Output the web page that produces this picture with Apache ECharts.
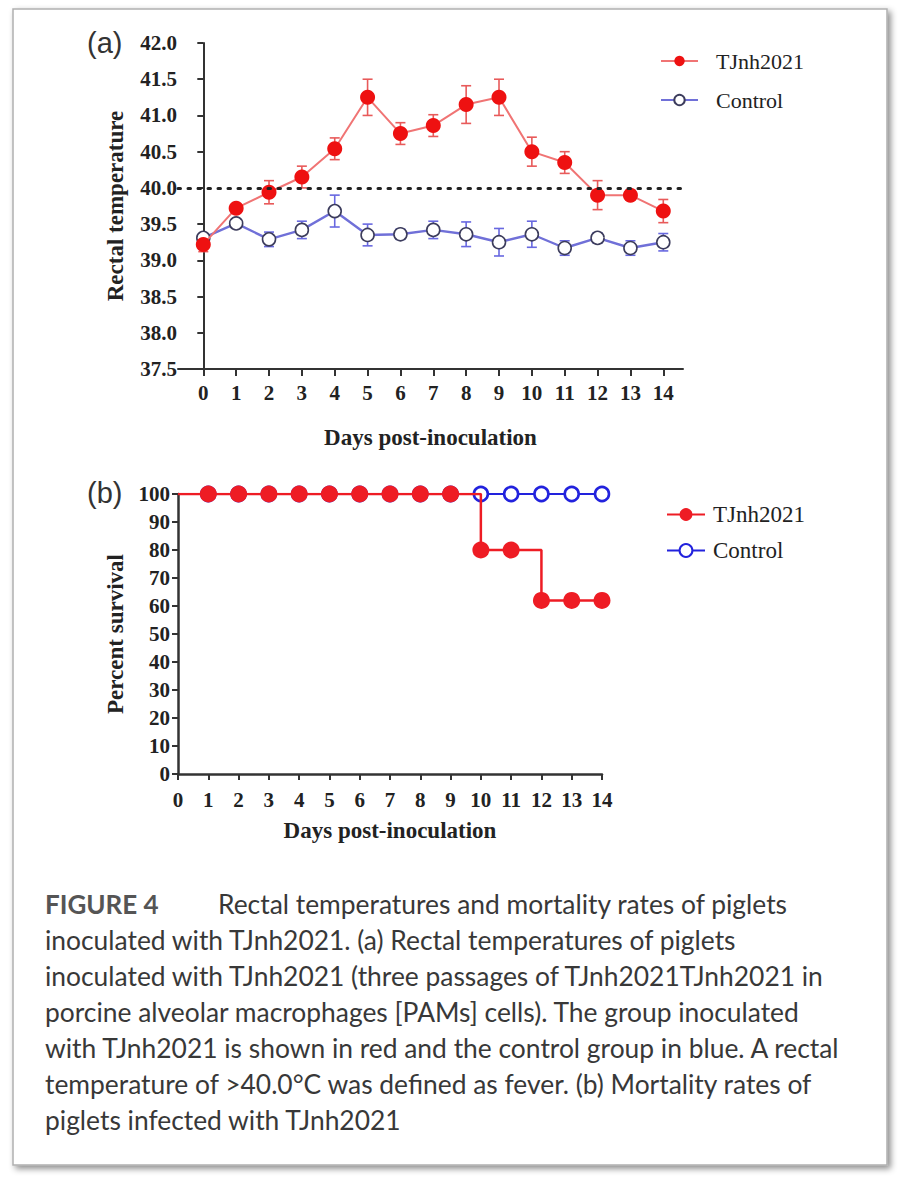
<!DOCTYPE html>
<html>
<head>
<meta charset="utf-8">
<script src="https://cdn.jsdelivr.net/npm/echarts@6/dist/echarts.min.js"></script>
<style>
html,body{margin:0;padding:0;background:#fff;}
#c{width:900px;height:1183px;}
</style>
</head>
<body>
<div id="c"></div>
<script>
// ---- data ----
const days = [0,1,2,3,4,5,6,7,8,9,10,11,12,13,14];
const tjTemp   = [39.22,39.72,39.94,40.15,40.54,41.25,40.75,40.86,41.15,41.25,40.50,40.35,39.90,39.90,39.68];
const tjErr    = [0.10,0.06,0.16,0.15,0.15,0.25,0.15,0.15,0.26,0.25,0.20,0.15,0.20,0.07,0.16];
const ctrlTemp = [39.31,39.51,39.29,39.42,39.68,39.35,39.36,39.42,39.36,39.25,39.36,39.17,39.31,39.17,39.25];
const ctrlErr  = [0.04,0.05,0.10,0.12,0.22,0.15,0.07,0.12,0.17,0.19,0.18,0.10,0.07,0.10,0.12];
const feverThreshold = 40.0;
const tjSurv   = [100,100,100,100,100,100,100,100,100,100,80,80,62,62,62];
const ctrlSurv = [100,100,100,100,100,100,100,100,100,100,100,100,100,100,100];
const captionHead = 'FIGURE 4';
const captionFirst = 'Rectal temperatures and mortality rates of piglets';
const captionLines = [
  'inoculated with TJnh2021. (a) Rectal temperatures of piglets',
  'inoculated with TJnh2021 (three passages of TJnh2021TJnh2021 in',
  'porcine alveolar macrophages [PAMs] cells). The group inoculated',
  'with TJnh2021 is shown in red and the control group in blue. A rectal',
  'temperature of >40.0°C was defined as fever. (b) Mortality rates of',
  'piglets infected with TJnh2021'
];

// ---- styling ----
const serif = 'Liberation Serif';
const axisCol = '#333';
const redA = '#ee1111', redLineA = '#f07474', redErrA = '#e85a5a';
const blueLineA = '#7070d8', blueErrA = '#6868e0', ctrlEdgeA = '#3c3c5c';
const redB = '#ee1c24', blueB = '#2222dd';

function errSeries(vals, errs, color, gi){
  return {
    type:'custom', xAxisIndex:gi, yAxisIndex:gi, z:1, silent:true,
    data: days.map((d,i)=>[d, vals[i], errs[i]]),
    renderItem(params, api){
      const x=api.value(0), y=api.value(1), e=api.value(2);
      const t=api.coord([x,y+e]), b=api.coord([x,y-e]);
      const w=5;
      const st={stroke:color, lineWidth:1.6};
      return {type:'group', children:[
        {type:'line', shape:{x1:t[0],y1:t[1],x2:b[0],y2:b[1]}, style:st},
        {type:'line', shape:{x1:t[0]-w,y1:t[1],x2:t[0]+w,y2:t[1]}, style:st},
        {type:'line', shape:{x1:b[0]-w,y1:b[1],x2:b[0]+w,y2:b[1]}, style:st}
      ]};
    }
  };
}

const boldLbl = {fontFamily:serif, fontWeight:'bold', fontSize:21, color:'#222'};
const nameStyle = {fontFamily:serif, fontWeight:'bold', fontSize:23, color:'#222'};

const chart = echarts.init(document.getElementById('c'), null, {renderer:'svg'});
const option = {
  backgroundColor:'#fff',
  animation:false,
  grid:[
    {left:178, top:43, width:505, height:326},
    {left:178, top:494, width:424, height:280}
  ],
  xAxis:[
    {gridIndex:0, type:'value', min:-0.77, max:14.6,
     axisLine:{lineStyle:{color:axisCol,width:2}},
     axisTick:{customValues:days, length:7, lineStyle:{color:axisCol,width:2}},
     axisLabel:{customValues:days, margin:13, ...boldLbl},
     splitLine:{show:false},
     name:'Days post-inoculation', nameLocation:'middle', nameGap:57, nameTextStyle:nameStyle},
    {gridIndex:1, type:'value', min:0, max:14, interval:1,
     axisLine:{lineStyle:{color:axisCol,width:2.5}},
     axisTick:{length:6, lineStyle:{color:axisCol,width:2}},
     axisLabel:{margin:15, ...boldLbl},
     splitLine:{show:false},
     name:'Days post-inoculation', nameLocation:'middle', nameGap:45, nameTextStyle:nameStyle}
  ],
  yAxis:[
    {gridIndex:0, type:'value', min:37.5, max:42, interval:0.5, offset:-7,
     axisLine:{show:true, lineStyle:{color:axisCol,width:2}},
     axisTick:{show:true, length:6, lineStyle:{color:axisCol,width:2}},
     axisLabel:{margin:8, formatter:v=>v.toFixed(1), ...boldLbl},
     splitLine:{show:false},
     name:'Rectal temperature', nameLocation:'middle', nameGap:58, nameTextStyle:nameStyle},
    {gridIndex:1, type:'value', min:0, max:100, interval:10,
     axisLine:{show:true, lineStyle:{color:axisCol,width:2.5}},
     axisTick:{show:true, length:6, lineStyle:{color:axisCol,width:2}},
     axisLabel:{margin:8, ...boldLbl},
     splitLine:{show:false},
     name:'Percent survival', nameLocation:'middle', nameGap:51, nameTextStyle:nameStyle}
  ],
  legend:[
    {data:['a-TJnh2021','a-Control'], orient:'vertical', left:655, top:45, itemGap:17,
     itemWidth:37, itemHeight:13, formatter:n=>n.slice(2),
     textStyle:{fontFamily:serif, fontSize:22, color:'#222', padding:[0,0,0,13]}, selectedMode:false},
    {data:['b-TJnh2021','b-Control'], orient:'vertical', left:661, top:498, itemGap:13,
     itemWidth:38, itemHeight:16, formatter:n=>n.slice(2),
     textStyle:{fontFamily:serif, fontSize:23, color:'#222', padding:[0,0,0,3]}, selectedMode:false}
  ],
  series:[
    errSeries(ctrlTemp, ctrlErr, blueErrA, 0),
    errSeries(tjTemp, tjErr, redErrA, 0),
    {name:'a-Control', type:'line', xAxisIndex:0, yAxisIndex:0, z:3,
     data:days.map((d,i)=>[d,ctrlTemp[i]]),
     symbol:'circle', symbolSize:13,
     lineStyle:{color:blueLineA, width:2.4},
     itemStyle:{color:'#fff', borderColor:ctrlEdgeA, borderWidth:1.6}},
    {name:'a-TJnh2021', type:'line', xAxisIndex:0, yAxisIndex:0, z:4,
     data:days.map((d,i)=>[d,tjTemp[i]]),
     symbol:'circle', symbolSize:15,
     lineStyle:{color:redLineA, width:2},
     itemStyle:{color:redA, borderColor:redA, borderWidth:0},
     markLine:{silent:true, symbol:'none', label:{show:false},
       lineStyle:{color:'#222', type:[2.5,7.5], width:3, cap:'round'},
       data:[{yAxis:feverThreshold}]}},
    {name:'b-Control', type:'line', xAxisIndex:1, yAxisIndex:1, z:3, step:'end',
     data:days.map((d,i)=> i===0 ? {value:[d,ctrlSurv[i]], symbol:'none'} : [d,ctrlSurv[i]]),
     symbol:'circle', symbolSize:14,
     lineStyle:{color:blueB, width:2},
     itemStyle:{color:'#fff', borderColor:blueB, borderWidth:2.6}},
    {name:'b-TJnh2021', type:'line', xAxisIndex:1, yAxisIndex:1, z:4, step:'end',
     data:days.map((d,i)=> i===0 ? {value:[d,tjSurv[i]], symbol:'none'} : [d,tjSurv[i]]),
     symbol:'circle', symbolSize:17,
     lineStyle:{color:redB, width:2.5},
     itemStyle:{color:redB, borderWidth:0}}
  ],
  graphic:[
    {type:'rect', z:-10, shape:{x:13, y:9, width:874, height:1156},
     style:{fill:'#fff', stroke:'#b0b0b0', lineWidth:1.5, shadowBlur:6, shadowOffsetX:3, shadowOffsetY:3, shadowColor:'rgba(0,0,0,0.45)'}},
    {type:'text', left:87, top:28, style:{text:'(a)', font:'29px "Liberation Sans"', fill:'#333'}},
    {type:'text', left:87, top:478, style:{text:'(b)', font:'29px "Liberation Sans"', fill:'#333'}},
    {type:'text', left:45, top:891, style:{text:captionHead, font:'bold 26px Lato', fill:'#555'}},
    {type:'text', left:218, top:891, style:{text:captionFirst, font:'26.4px Lato', fill:'#383838'}}
  ].concat(captionLines.map((t,i)=>({type:'text', left:45, top:927+i*36, style:{text:t, font:'26.4px Lato', fill:'#383838'}})))
};
chart.setOption(option);
</script>
</body>
</html>
